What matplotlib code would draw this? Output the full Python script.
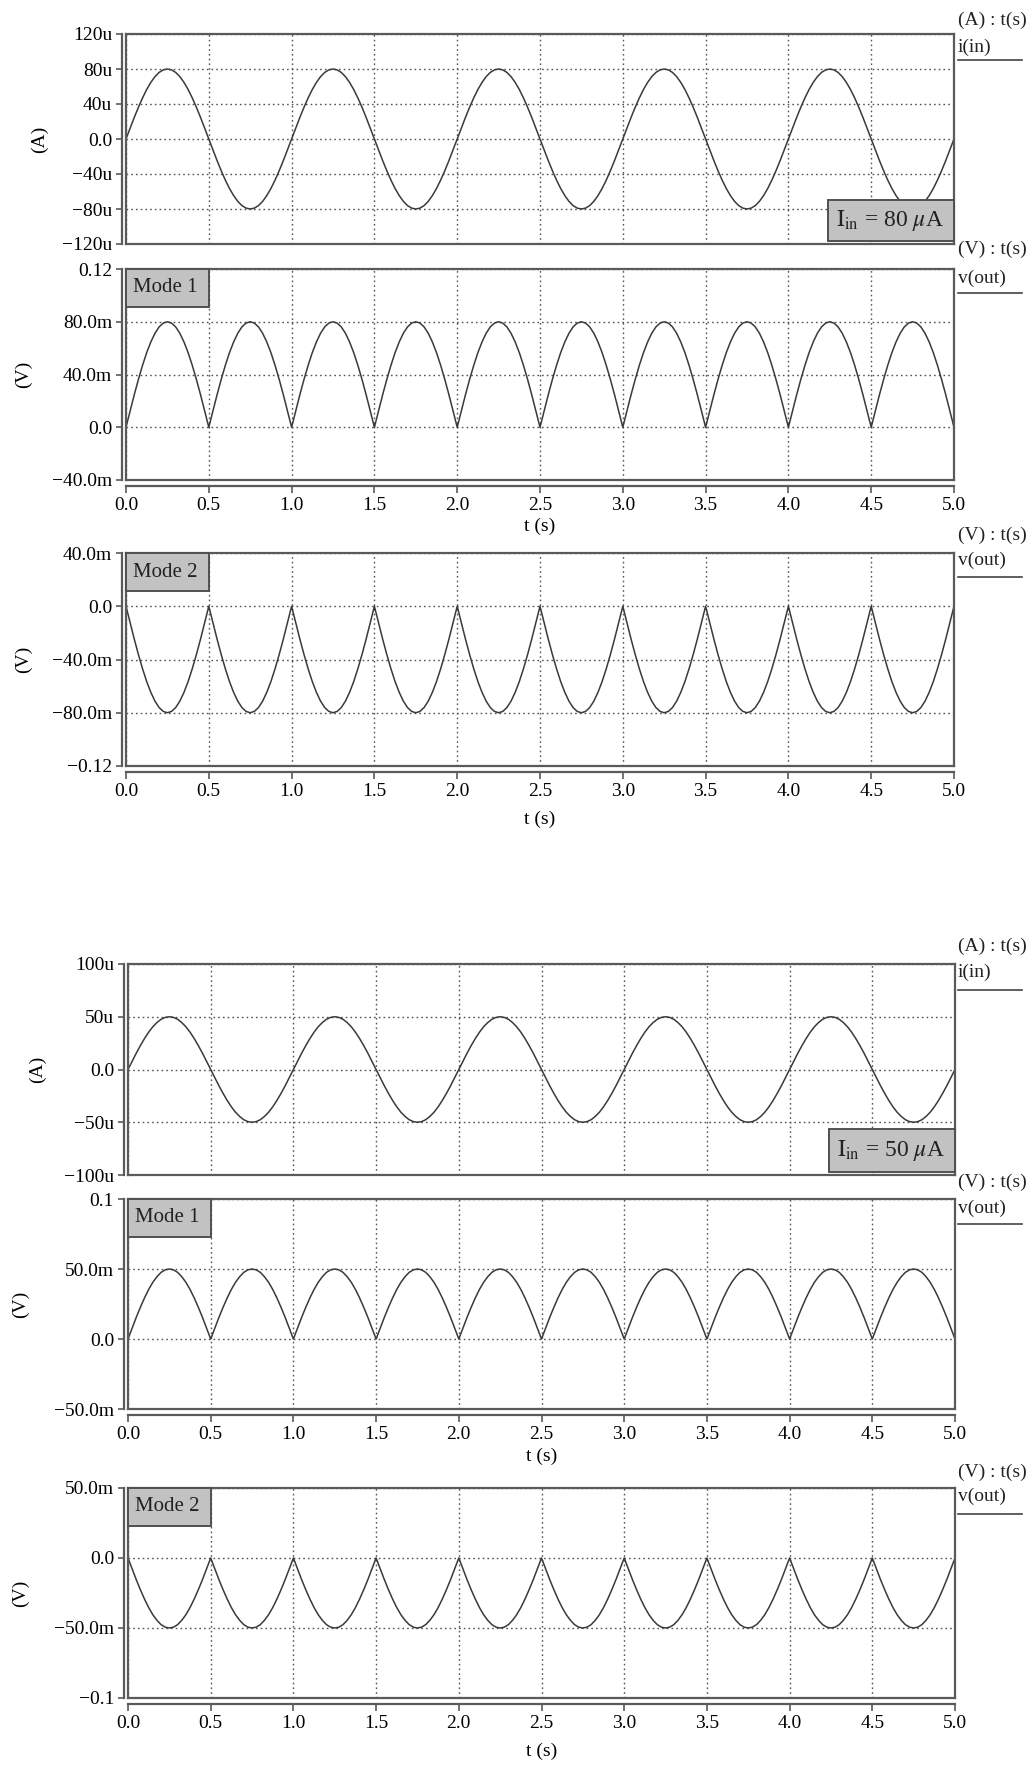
import numpy as np
import matplotlib
matplotlib.use("Agg")
import matplotlib.pyplot as plt
from matplotlib.patches import Rectangle
from matplotlib.lines import Line2D

plt.rcParams['font.family'] = ['Liberation Serif', 'DejaVu Serif']
plt.rcParams['mathtext.fontset'] = 'stix'

# ---------------- data ----------------
t_step = 0.025                      # s, sampling step
n_cycles = 5                        # 1 Hz input, 0..5 s
x_ticks = [0.0, 0.5, 1.0, 1.5, 2.0, 2.5, 3.0, 3.5, 4.0, 4.5, 5.0]
x_ticklabels = ["0.0", "0.5", "1.0", "1.5", "2.0", "2.5", "3.0", "3.5", "4.0", "4.5", "5.0"]

# one input-current cycle (uA), read at 0.025 s steps
i_in_80_cycle = [0, 12.5, 24.7, 36.3, 47.0, 56.6, 64.7, 71.3, 76.1, 79.0, 80.0,
                 79.0, 76.1, 71.3, 64.7, 56.6, 47.0, 36.3, 24.7, 12.5,
                 0, -12.5, -24.7, -36.3, -47.0, -56.6, -64.7, -71.3, -76.1, -79.0, -80.0,
                 -79.0, -76.1, -71.3, -64.7, -56.6, -47.0, -36.3, -24.7, -12.5]
i_in_50_cycle = [0, 7.8, 15.5, 22.7, 29.4, 35.4, 40.5, 44.5, 47.6, 49.4, 50.0,
                 49.4, 47.6, 44.5, 40.5, 35.4, 29.4, 22.7, 15.5, 7.8,
                 0, -7.8, -15.5, -22.7, -29.4, -35.4, -40.5, -44.5, -47.6, -49.4, -50.0,
                 -49.4, -47.6, -44.5, -40.5, -35.4, -29.4, -22.7, -15.5, -7.8]
# one output half-cycle (mV), mode 1 (full-wave positive) and mode 2 (negative)
v_m1_80_half = [0, 12.5, 24.7, 36.3, 47.0, 56.6, 64.7, 71.3, 76.1, 79.0, 80.0,
                79.0, 76.1, 71.3, 64.7, 56.6, 47.0, 36.3, 24.7, 12.5]
v_m2_80_half = [-v for v in v_m1_80_half]
v_m1_50_half = [0, 7.8, 15.5, 22.7, 29.4, 35.4, 40.5, 44.5, 47.6, 49.4, 50.0,
                49.4, 47.6, 44.5, 40.5, 35.4, 29.4, 22.7, 15.5, 7.8]
v_m2_50_half = [-v for v in v_m1_50_half]

# y-axis ticks per panel
p1_yticks = [-120, -80, -40, 0, 40, 80, 120]
p1_ylabels = ["\u2212120u", "\u221280u", "\u221240u", "0.0", "40u", "80u", "120u"]
p2_yticks = [-40, 0, 40, 80, 120]
p2_ylabels = ["\u221240.0m", "0.0", "40.0m", "80.0m", "0.12"]
p3_yticks = [-120, -80, -40, 0, 40]
p3_ylabels = ["\u22120.12", "\u221280.0m", "\u221240.0m", "0.0", "40.0m"]
p4_yticks = [-100, -50, 0, 50, 100]
p4_ylabels = ["\u2212100u", "\u221250u", "0.0", "50u", "100u"]
p5_yticks = [-50, 0, 50, 100]
p5_ylabels = ["\u221250.0m", "0.0", "50.0m", "0.1"]
p6_yticks = [-100, -50, 0, 50]
p6_ylabels = ["\u22120.1", "\u221250.0m", "0.0", "50.0m"]


def full_trace(cycle, reps):
    y = list(np.tile(cycle, reps)) + [cycle[0]]
    return np.array(y)

n_pts = len(i_in_80_cycle) * n_cycles + 1
t = np.arange(n_pts) * t_step

W, H = 1036, 1766
fig = plt.figure(figsize=(W / 100, H / 100), dpi=100)

FS = 14
LINE_C = '#3a3a3a'
FRAME_C = '#5a5a5a'
GRID_C = '#555555'


def px_axes(left, top, right, bottom):
    return fig.add_axes([left / W, 1 - bottom / H, (right - left) / W, (bottom - top) / H])


def style(ax, yticks, ylabels, ylab, ylab_x, show_x, xlab_y=None):
    for s in ax.spines.values():
        s.set_color(FRAME_C)
        s.set_linewidth(1.6)
    ax.spines['left'].set_position(('outward', 3))
    if show_x:
        ax.spines['bottom'].set_position(('outward', 4))
    ax.set_xlim(0, 5)
    ax.set_ylim(yticks[0], yticks[-1])
    ax.set_yticks(yticks)
    ax.set_yticklabels(ylabels)
    ax.set_xticks(x_ticks)
    # frame line at the left edge of the plotting area
    ax.add_line(Line2D([0, 0], [0, 1], transform=ax.transAxes, color=FRAME_C,
                       lw=1.6, clip_on=False))
    ax.tick_params(axis='y', length=4, width=1.2, color=FRAME_C, pad=3, labelsize=FS)
    if show_x:
        ax.add_line(Line2D([0, 1], [0, 0], transform=ax.transAxes, color=FRAME_C,
                           lw=1.6, clip_on=False))
        ax.set_xticklabels(x_ticklabels)
        ax.tick_params(axis='x', length=5, width=1.2, color=FRAME_C, pad=3, labelsize=FS)
        ax.set_xlabel("t (s)", fontsize=FS)
        ax.xaxis.set_label_coords(0.5, xlab_y)
        ax.xaxis.label.set_va('center')
    else:
        ax.tick_params(axis='x', length=0, labelbottom=False)
    ax.grid(True, linestyle=(0, (1.2, 2.2)), color=GRID_C, linewidth=1.0)
    ax.set_axisbelow(True)
    ax.set_ylabel(ylab, fontsize=FS)
    ax.yaxis.set_label_coords(ylab_x, 0.5)
    ax.yaxis.label.set_va('center')


def box(ax, x0, y0, x1, y1, text, tx=None, fs=FS):
    ax.add_patch(Rectangle((x0, y0), x1 - x0, y1 - y0, transform=ax.transAxes,
                           facecolor='#c2c2c2', edgecolor='#505050', lw=1.4,
                           zorder=5, clip_on=False))
    if tx is None:
        tx = (x0 + x1) / 2
    ax.text(tx, (y0 + y1) / 2, text, transform=ax.transAxes,
            ha='center', va='center', fontsize=fs, color='#222222', zorder=6)


def side_label(y_top_txt, y_name, y_line, name):
    x0 = 958 / W
    fig.text(x0, 1 - y_top_txt / H, name[0], fontsize=FS, va='center', ha='left', color='#222')
    fig.text(x0, 1 - y_name / H, name[1], fontsize=FS, va='center', ha='left', color='#222')
    fig.add_artist(Line2D([x0, 1022 / W], [1 - y_line / H, 1 - y_line / H],
                          color='#444', lw=1.2))


# ---------------- group 1 (80 uA) ----------------
ax1 = px_axes(126, 34, 954, 244)
ax1.plot(t, full_trace(i_in_80_cycle, n_cycles), color=LINE_C, lw=1.1)
style(ax1, p1_yticks, p1_ylabels, "(A)", -0.104, False)
box(ax1, 0.848, 0.014, 1.0, 0.21, r"$\mathrm{I_{in}}$ = 80 $\mu$A", 0.923, 17)

ax2 = px_axes(126, 269, 954, 480)
ax2.plot(t, full_trace(v_m1_80_half, 2 * n_cycles), color=LINE_C, lw=1.1)
style(ax2, p2_yticks, p2_ylabels, "(V)", -0.124, True, -0.218)
box(ax2, 0.0, 0.82, 0.100, 1.0, "Mode 1", 0.048, 15)

ax3 = px_axes(126, 553, 954, 766)
ax3.plot(t, full_trace(v_m2_80_half, 2 * n_cycles), color=LINE_C, lw=1.1)
style(ax3, p3_yticks, p3_ylabels, "(V)", -0.124, True, -0.249)
box(ax3, 0.0, 0.82, 0.100, 1.0, "Mode 2", 0.048, 15)

# ---------------- group 2 (50 uA) ----------------
ax4 = px_axes(128, 964, 955, 1175)
ax4.plot(t, full_trace(i_in_50_cycle, n_cycles), color=LINE_C, lw=1.1)
style(ax4, p4_yticks, p4_ylabels, "(A)", -0.109, False)
box(ax4, 0.848, 0.014, 1.0, 0.218, r"$\mathrm{I_{in}}$ = 50 $\mu$A", 0.923, 17)

ax5 = px_axes(128, 1199, 955, 1409)
ax5.plot(t, full_trace(v_m1_50_half, 2 * n_cycles), color=LINE_C, lw=1.1)
style(ax5, p5_yticks, p5_ylabels, "(V)", -0.13, True, -0.224)
box(ax5, 0.0, 0.82, 0.100, 1.0, "Mode 1", 0.048, 15)

ax6 = px_axes(128, 1488, 955, 1698)
ax6.plot(t, full_trace(v_m2_50_half, 2 * n_cycles), color=LINE_C, lw=1.1)
style(ax6, p6_yticks, p6_ylabels, "(V)", -0.13, True, -0.252)
box(ax6, 0.0, 0.82, 0.100, 1.0, "Mode 2", 0.048, 15)

# right-side trace labels
side_label(20, 47, 60, ("(A) : t(s)", "i(in)"))
side_label(249, 278, 293, ("(V) : t(s)", "v(out)"))
side_label(535, 560, 577, ("(V) : t(s)", "v(out)"))
side_label(946, 972, 990, ("(A) : t(s)", "i(in)"))
side_label(1182, 1208, 1224, ("(V) : t(s)", "v(out)"))
side_label(1472, 1496, 1514, ("(V) : t(s)", "v(out)"))

fig.savefig("out.png", dpi=100, facecolor='white')
